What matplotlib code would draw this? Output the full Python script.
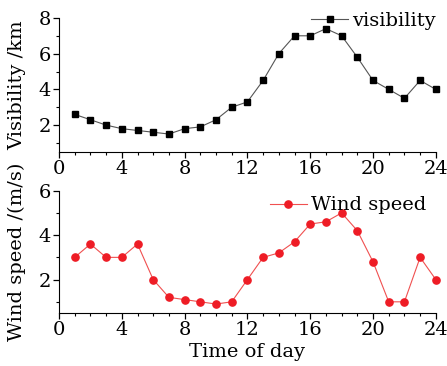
import numpy as np
import matplotlib
matplotlib.use('Agg')
import matplotlib.pyplot as plt
from matplotlib.ticker import MultipleLocator

plt.rcParams['font.family'] = ['DejaVu Serif']
plt.rcParams['mathtext.fontset'] = 'dejavuserif'

hours = list(range(1, 25))
visibility = [2.6, 2.3, 2.0, 1.8, 1.7, 1.6, 1.5, 1.8, 1.9, 2.3, 3.0, 3.3,
              4.5, 6.0, 7.0, 7.0, 7.4, 7.0, 5.8, 4.5, 4.0, 3.5, 4.5, 4.0]
wind_speed = [3.0, 3.6, 3.0, 3.0, 3.6, 2.0, 1.2, 1.1, 1.0, 0.9, 1.0, 2.0,
              3.0, 3.2, 3.7, 4.5, 4.6, 5.0, 4.2, 2.8, 1.0, 1.0, 3.0, 2.0]

fig = plt.figure(figsize=(4.47, 3.66), dpi=100)
ax1 = fig.add_axes([0.132, 0.585, 0.843, 0.366])
ax2 = fig.add_axes([0.132, 0.145, 0.843, 0.334])

ax1.plot(hours, visibility, color='#555555', lw=0.8, marker='s', ms=4.4,
         mfc='black', mec='black', label='visibility', clip_on=False)
ax2.plot(hours, wind_speed, color='#f05050', lw=0.8, marker='o', ms=5.2,
         mfc='#ee1c25', mec='#ee1c25', label='Wind speed', clip_on=False)

ax1.set_ylim(0.5, 8)
ax2.set_ylim(0.5, 6)
ax1.yaxis.set_major_locator(MultipleLocator(2))
ax2.yaxis.set_major_locator(MultipleLocator(2))

for ax in (ax1, ax2):
    ax.set_xlim(0, 24)
    ax.xaxis.set_major_locator(MultipleLocator(4))
    ax.xaxis.set_minor_locator(MultipleLocator(1))
    ax.yaxis.set_minor_locator(MultipleLocator(1))
    ax.spines['top'].set_visible(False)
    ax.spines['right'].set_visible(False)
    ax.tick_params(which='major', length=4, width=0.9, labelsize=14, pad=2)
    ax.tick_params(which='minor', length=2.5, width=0.8)

ax1.set_ylabel('Visibility /km', fontsize=14, labelpad=9)
ax2.set_ylabel('Wind speed /(m/s)', fontsize=14, labelpad=9)
ax2.set_xlabel('Time of day', fontsize=14, labelpad=3)

fig.legend(handles=ax1.get_lines(), loc='upper right',
           bbox_to_anchor=(0.997, 0.995), frameon=False, fontsize=14,
           handlelength=1.9, handletextpad=0.2, borderpad=0)
fig.legend(handles=ax2.get_lines(), loc='upper right',
           bbox_to_anchor=(0.975, 0.49), frameon=False, fontsize=14,
           handlelength=1.9, handletextpad=0.2, borderpad=0)

fig.savefig('out.png', dpi=100)
